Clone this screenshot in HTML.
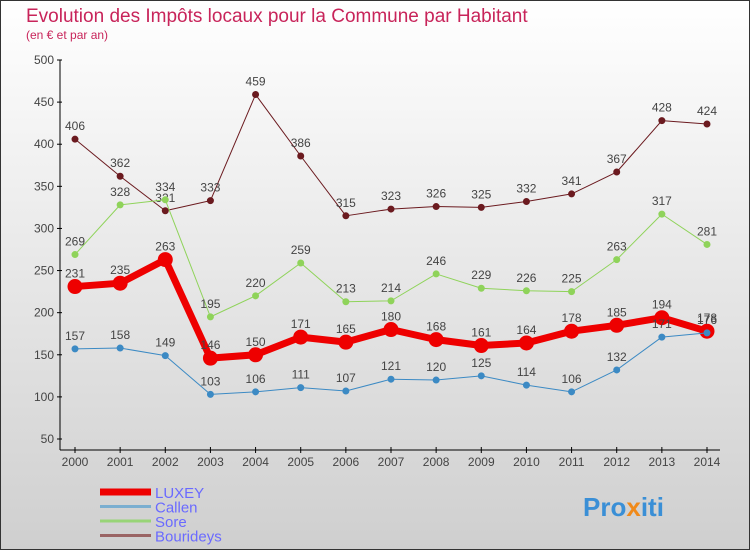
<!DOCTYPE html>
<html><head><meta charset="utf-8"><style>
body{margin:0;width:750px;height:550px;overflow:hidden;font-family:"Liberation Sans",sans-serif}
svg{display:block}
</style></head><body>
<svg id="chart" width="750" height="550">
<defs><linearGradient id="bg" x1="0" y1="0" x2="0" y2="1"><stop offset="0" stop-color="#ffffff"/><stop offset="1" stop-color="#cfcfcf"/></linearGradient></defs>
<rect x="0.5" y="0.5" width="749" height="549" fill="url(#bg)" stroke="#333"/>
<text x="26" y="22" font-size="19" fill="#c8245a">Evolution des Impôts locaux pour la Commune par Habitant</text>
<text x="26" y="39" font-size="12" fill="#c8245a">(en € et par an)</text>
<g id="axes"></g><g id="series"></g><g id="legend"></g>
<text x="583" y="516" font-size="26" font-weight="bold" fill="#3a8fd6">Pro<tspan fill="#f08a1a">x</tspan>iti</text>
</svg>
<script>
const years=[2000,2001,2002,2003,2004,2005,2006,2007,2008,2009,2010,2011,2012,2013,2014];
const yTicks=[50,100,150,200,250,300,350,400,450,500];
const luxey=[231,235,263,146,150,171,165,180,168,161,164,178,185,194,178];
const callen=[157,158,149,103,106,111,107,121,120,125,114,106,132,171,176];
const sore=[269,328,334,195,220,259,213,214,246,229,226,225,263,317,281];
const bourideys=[406,362,321,333,459,386,315,323,326,325,332,341,367,428,424];
const NS="http://www.w3.org/2000/svg";
function X(i){return 75+i*(632/14);}
function Y(v){return 439-(v-50)*(379/450);}
function mk(t,a,p,name){const e=document.createElementNS(NS,t);for(const k in a)e.setAttribute(k,a[k]);


p.appendChild(e);return e;}
const ax=document.getElementById('axes');
mk('line',{x1:60,y1:60,x2:60,y2:450,stroke:'#000'},ax,'y-axis');
mk('line',{x1:60,y1:450,x2:720,y2:450,stroke:'#000'},ax,'x-axis');
yTicks.forEach(v=>{mk('line',{x1:57,y1:Y(v),x2:62,y2:Y(v),stroke:'#000'},ax,'y-tick');
const t=mk('text',{x:54,y:Y(v)+4,'font-size':12,'text-anchor':'end',fill:'#444'},ax,'y-tick-label');t.textContent=v;});
years.forEach((y,i)=>{mk('line',{x1:X(i),y1:447,x2:X(i),y2:453,stroke:'#000'},ax,'x-tick');
const t=mk('text',{x:X(i),y:466,'font-size':12,'text-anchor':'middle',fill:'#444'},ax,'x-tick-label');t.textContent=y;});
const sg=document.getElementById('series');
function series(vals,color,fill,w,r,name){
const pts=vals.map((v,i)=>X(i)+','+Y(v)).join(' ');
mk('polyline',{points:pts,fill:'none',stroke:color,'stroke-width':w,'stroke-linejoin':'round'},sg,name+'-line');
vals.forEach((v,i)=>{mk('circle',{cx:X(i),cy:Y(v),r:r,fill:fill,stroke:color,'stroke-width':1},sg,name+'-point');
const t=mk('text',{x:X(i),y:Y(v)-9,'font-size':12,'text-anchor':'middle',fill:'#444'},sg,name+'-value');t.textContent=v;});}
series(bourideys,'#6b1a1f','#6b1a1f',1,3,'bourideys');
series(sore,'#8fd35a','#8fd35a',1,3,'sore');
series(luxey,'#ee0000','#ee0000',7,7,'luxey');
series(callen,'#3c8ac4','#3c8ac4',1,3,'callen');
const lg=document.getElementById('legend');
const items=[['LUXEY','#ee0000',7],['Callen','#7aaed0',3],['Sore','#98d477',3],['Bourideys','#9a6464',3]];
items.forEach((it,k)=>{const y=492+k*14.5;
mk('line',{x1:100,y1:y,x2:151,y2:y,stroke:it[1],'stroke-width':it[2]},lg,'legend-swatch');
const t=mk('text',{x:155,y:y+6,'font-size':15,fill:'#6a6aff'},lg,'legend-entry');t.textContent=it[0];});
</script>
</body></html>
